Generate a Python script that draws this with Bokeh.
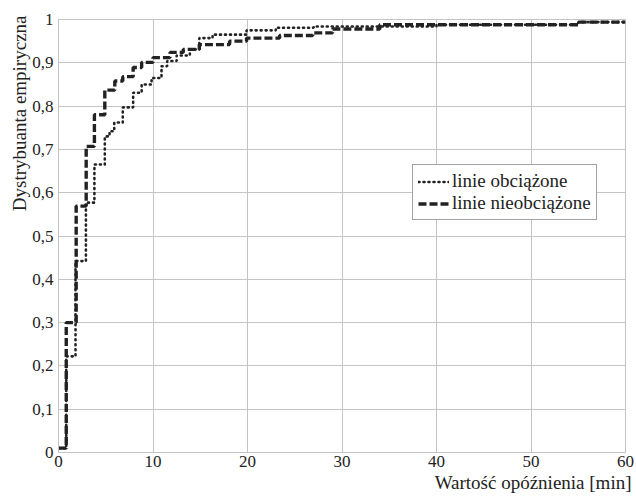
from bokeh.plotting import figure
from bokeh.models import FixedTicker, Legend, LegendItem, Title, Range1d
from bokeh.embed import file_html
from bokeh.resources import INLINE

# Empirical CDF step points (x = delay [min], y = CDF value after step)
loaded_x = [0, 0.82, 1.8, 2.9, 3.8, 4.9, 5.4, 5.9, 6.8, 7.9, 8.8, 9.85, 10.9, 11.5, 12.5, 13.9, 14.9, 16.3, 19.9, 23, 27, 40, 55, 60]
loaded_y = [0.01, 0.222, 0.442, 0.577, 0.665, 0.730, 0.742, 0.762, 0.797, 0.831, 0.85, 0.865, 0.892, 0.904, 0.917, 0.931, 0.957, 0.965, 0.975, 0.981, 0.984, 0.988, 0.994, 0.994]

unloaded_x = [0, 0.82, 1.87, 2.93, 3.8, 4.9, 5.96, 6.8, 7.9, 8.8, 10.0, 11.8, 13.2, 14.9, 18.1, 19.9, 23.4, 26.9, 29, 34, 55, 60]
unloaded_y = [0.01, 0.30, 0.569, 0.707, 0.78, 0.837, 0.858, 0.868, 0.889, 0.901, 0.912, 0.924, 0.931, 0.942, 0.950, 0.957, 0.963, 0.969, 0.978, 0.988, 0.994, 0.994]

x_ticks = [0, 10, 20, 30, 40, 50, 60]
y_ticks = [0, 0.1, 0.2, 0.3, 0.4, 0.5, 0.6, 0.7, 0.8, 0.9, 1.0]
y_tick_labels = ["0", "0,1", "0,2", "0,3", "0,4", "0,5", "0,6", "0,7", "0,8", "0,9", "1"]

series_names = ["linie obciążone", "linie nieobciążone"]

FONT = "Liberation Serif"
INK = "#222222"
GRID = "#c4c4c4"

p = figure(width=636, height=498, output_backend="svg", toolbar_location=None,
           x_range=Range1d(0, 60), y_range=Range1d(0, 1),
           min_border_left=58, min_border_top=19, min_border_right=11, min_border_bottom=46)

p.background_fill_color = "white"
p.border_fill_color = "white"
p.outline_line_color = GRID
p.outline_line_width = 1

for ax in (p.xaxis[0], p.yaxis[0]):
    ax.major_tick_line_color = None
    ax.minor_tick_line_color = None
    ax.major_tick_out = 0
    ax.major_tick_in = 0
    ax.axis_line_color = GRID
    ax.major_label_text_font = FONT
    ax.major_label_text_font_size = "17px"
    ax.major_label_text_color = INK

p.xaxis[0].ticker = FixedTicker(ticks=x_ticks)
p.yaxis[0].ticker = FixedTicker(ticks=y_ticks)
p.yaxis[0].major_label_overrides = {t: l for t, l in zip(y_ticks, y_tick_labels)}
p.xaxis[0].major_label_standoff = 3
p.yaxis[0].major_label_standoff = 5

p.xgrid.ticker = FixedTicker(ticks=x_ticks)
p.ygrid.ticker = FixedTicker(ticks=y_ticks)
p.grid.grid_line_color = GRID
p.grid.grid_line_width = 1

r1 = p.step(loaded_x, loaded_y, mode="after", line_color=INK, line_width=2.6,
            line_dash="1 4", line_cap="round")
r2 = p.step(unloaded_x, unloaded_y, mode="after", line_color=INK, line_width=3.4,
            line_dash="8 3")

legend = Legend(items=[LegendItem(label=series_names[0], renderers=[r1]),
                       LegendItem(label=series_names[1], renderers=[r2])],
                location=(354, 232))
legend.label_text_font = FONT
legend.label_text_font_size = "19px"
legend.label_text_color = INK
legend.border_line_color = "#444444"
legend.border_line_width = 1
legend.background_fill_alpha = 1
legend.glyph_width = 31
legend.spacing = 0
legend.padding = 5
legend.margin = 0
legend.label_standoff = 3
legend.label_height = 21
legend.glyph_height = 21
p.add_layout(legend, "center")

xt = Title(text="Wartość opóźnienia [min]", align="right", text_font=FONT,
           text_font_size="19px", text_font_style="normal", text_color=INK, offset=-6,
           standoff=0)
p.add_layout(xt, "below")
yt = Title(text="Dystrybuanta empiryczna", align="right", text_font=FONT,
           text_font_size="19px", text_font_style="normal", text_color=INK, standoff=0,
           offset=-4)
p.add_layout(yt, "left")

open("out.html", "w").write(file_html(p, INLINE))
